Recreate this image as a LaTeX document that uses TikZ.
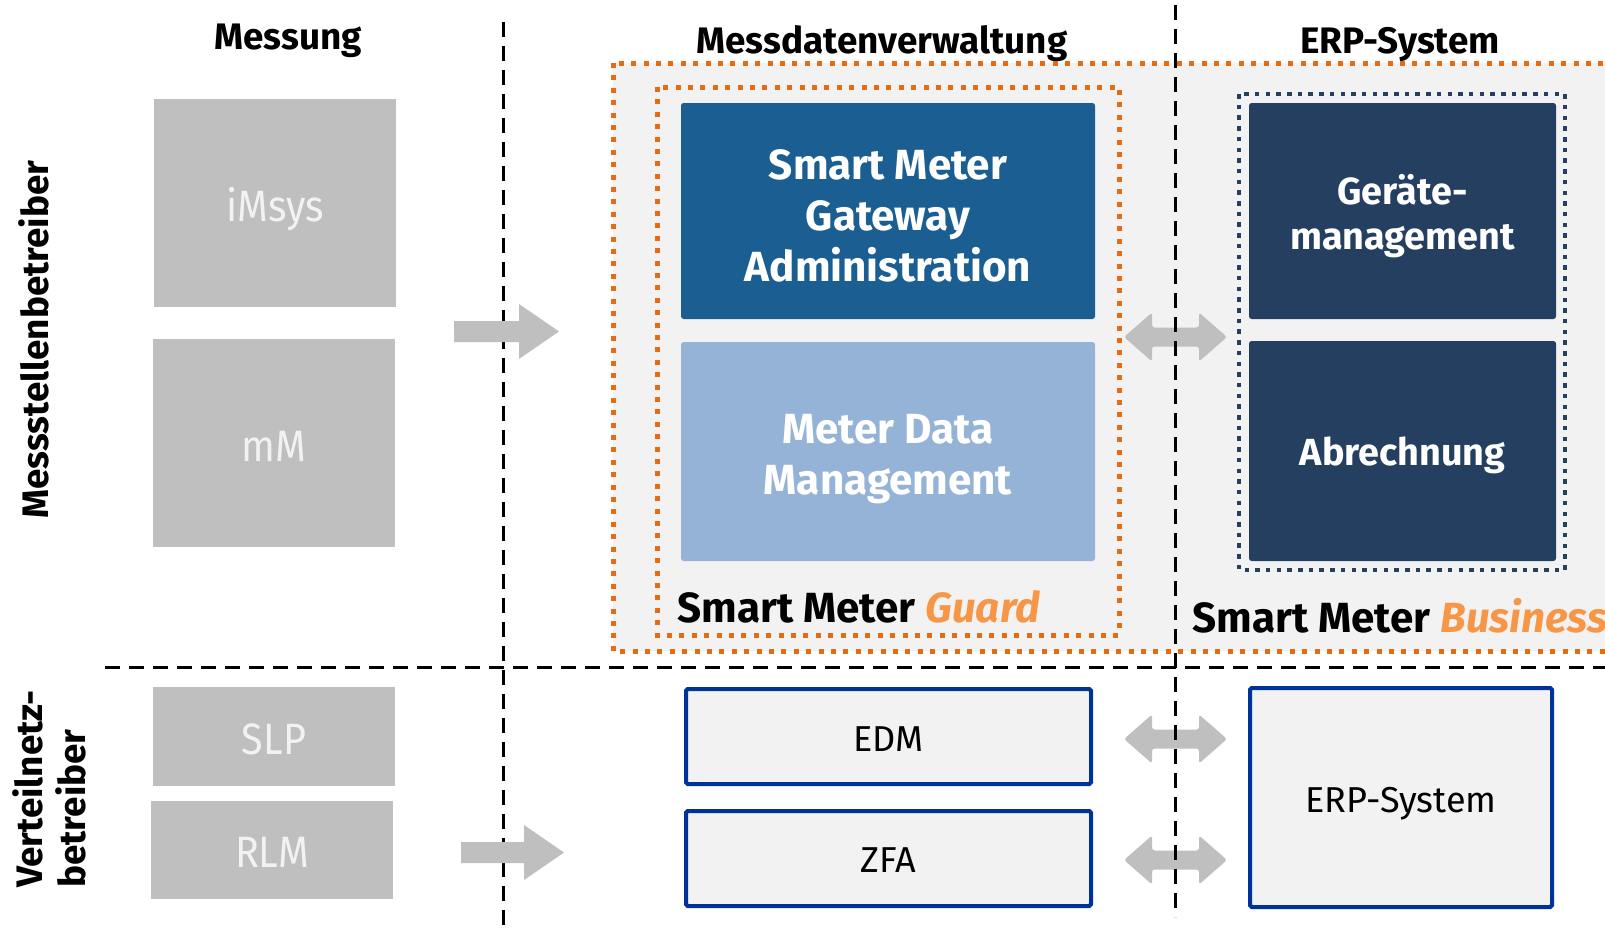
\documentclass[tikz,border=0pt]{standalone}
\usepackage{fontspec}
\setmainfont{Fira Sans}
\newfontfamily\condfont{Fira Sans}[FakeStretch=0.9]
\definecolor{cGray}{HTML}{BFBFBF}
\definecolor{cLight}{HTML}{F2F2F2}
\definecolor{cBlueDark}{HTML}{1B5E92}
\definecolor{cBlueLight}{HTML}{95B3D7}
\definecolor{cNavy}{HTML}{253F60}
\definecolor{cOrangeDot}{HTML}{E56C12}
\definecolor{cOrangeText}{HTML}{F79646}
\definecolor{cBorder}{HTML}{003399}
\newlength\pxl
\setlength\pxl{0.02cm}
\begin{document}
\begin{tikzpicture}[x=0.02cm,y=-0.02cm,
  title/.style={inner sep=0, font=\bfseries\fontsize{21pt}{25pt}\selectfont},
  graybox/.style={fill=cGray, inner sep=0},
  graytext/.style={text=cLight, inner sep=0, font=\condfont\fontsize{25pt}{30pt}\selectfont},
  colbox/.style={rounded corners=1.5pt, inner sep=0},
  boxtext/.style={text=white, inner sep=0, align=center},
  bigtext/.style={font=\bfseries\fontsize{24pt}{29pt}\selectfont},
  midtext/.style={font=\bfseries\fontsize{21.5pt}{25.5pt}\selectfont},
  whitebox/.style={draw=cBorder, line width=4\pxl, fill=cLight, rounded corners=1pt, inner sep=0},
  plaintext/.style={inner sep=0, font=\fontsize{20.5pt}{24pt}\selectfont},
  orangedot/.style={draw=cOrangeDot, line width=5\pxl, dash pattern=on 5\pxl off 7.4\pxl},
  navydot/.style={draw=cNavy, line width=4\pxl, dash pattern=on 4.5\pxl off 6.2\pxl},
  sepline/.style={draw=black, line width=3\pxl, dash pattern=on 15\pxl off 9\pxl},
  blockarrow/.style={fill=cGray},
  sidelabel/.style={inner sep=0, rotate=90, anchor=base west, font=\bfseries\fontsize{21pt}{25pt}\selectfont},
  footlabel/.style={inner sep=0, anchor=base west, font=\bfseries\fontsize{24pt}{28pt}\selectfont}
]
\useasboundingbox (0,0) rectangle (1605,933);
\clip (0,0) rectangle (1605,933);
\fill[white] (0,0) rectangle (1605,933);

% titles
\node[title, anchor=base] (tMess) at (288,50) {Messung};
\node[title, anchor=base] (tMdv) at (882,53) {Messdatenverwaltung};
\node[title, anchor=base] (tErp) at (1400,53) {ERP-System};

% side labels
\node[sidelabel] (lMsb) at (48,519) {Messstellenbetreiber};
\node[sidelabel] (lVnb1) at (42,888) {Verteilnetz-};
\node[sidelabel] (lVnb2) at (85,888) {betreiber};

% containers
\draw[orangedot, fill=cLight] (613,63) rectangle (1630,651);
\draw[orangedot] (657,87) rectangle (1119,635);
\draw[navydot] (1239,94) rectangle (1565,570);

% coloured boxes
\node[colbox, fill=cBlueDark, minimum width=414\pxl, minimum height=216\pxl] (smga) at (888,211) {};
\node[colbox, fill=cBlueLight, minimum width=414\pxl, minimum height=219\pxl] (mdm) at (888,451.5) {};
\node[colbox, fill=cNavy, minimum width=307\pxl, minimum height=216\pxl] (geraete) at (1402.5,211) {};
\node[colbox, fill=cNavy, minimum width=307\pxl, minimum height=220\pxl] (abr) at (1402.5,451) {};
\node[boxtext, bigtext] (smgaT) at ([yshift=-5\pxl]smga.center) {Smart Meter\\Gateway\\Administration};
\node[boxtext, bigtext] (mdmT) at ([yshift=-7.5\pxl]mdm.center) {Meter Data\\Management};
\node[boxtext, midtext] (geraeteT) at ([yshift=-5\pxl]geraete.center) {Geräte-\\management};
\node[boxtext, midtext] (abrT) at ([yshift=-4\pxl]abr.center) {Abrechnung};

\node[footlabel] (guard) at (677,622) {Smart Meter \textcolor{cOrangeText}{\itshape Guard}};
\node[footlabel] (business) at (1192,632) {Smart Meter \textcolor{cOrangeText}{\itshape Business}};

% grey boxes
\node[graybox, minimum width=242\pxl, minimum height=208\pxl] (imsys) at (275,203) {};
\node[graybox, minimum width=242\pxl, minimum height=208\pxl] (mm) at (274,443) {};
\node[graybox, minimum width=242\pxl, minimum height=99\pxl] (slp) at (274,736.5) {};
\node[graybox, minimum width=242\pxl, minimum height=98\pxl] (rlm) at (272,850) {};
\node[graytext] (imsysT) at ([yshift=-6\pxl]imsys.center) {iMsys};
\node[graytext] (mmT) at ([yshift=-3\pxl]mm.center) {mM};
\node[graytext] (slpT) at ([yshift=-3\pxl]slp.center) {SLP};
\node[graytext] (rlmT) at ([yshift=-2\pxl]rlm.center) {RLM};

% lower boxes
\node[whitebox, minimum width=405\pxl, minimum height=95\pxl] (edm) at (888.5,736.5) {};
\node[whitebox, minimum width=405\pxl, minimum height=95\pxl] (zfa) at (888.5,858.5) {};
\node[whitebox, minimum width=302\pxl, minimum height=219\pxl] (erp) at (1401,797.5) {};
\node[plaintext] (edmT) at ([yshift=-3\pxl]edm.center) {EDM};
\node[plaintext] (zfaT) at ([yshift=-2\pxl]zfa.center) {ZFA};
\node[plaintext] (erpT) at ([yshift=-6\pxl]erp.center) {ERP-System};

% first separator
\draw[sepline] (503,22) -- (503,926);

% single block arrows
\coordinate (a1) at (454,331.5);
\coordinate (a2) at (461,852.5);
\fill[blockarrow, shift={(a1)}] (0,-10.5) -- (65,-10.5) -- (65,-27.5) -- (105,0) -- (65,27.5) -- (65,10.5) -- (0,10.5) -- cycle;
\fill[blockarrow, shift={(a2)}] (0,-10.5) -- (63,-10.5) -- (63,-27.5) -- (103,0) -- (63,27.5) -- (63,10.5) -- (0,10.5) -- cycle;

% double block arrows
\foreach \yy/\nm in {337/d1, 739/d2, 860/d3}{
  \coordinate (\nm) at (1124,\yy);
  \fill[blockarrow, rounded corners=1.5pt, shift={(\nm)}] (0,0) -- (28,-24.5) -- (28,-9.5) -- (75,-9.5) -- (75,-24.5) -- (103,0) -- (75,24.5) -- (75,9.5) -- (28,9.5) -- (28,24.5) -- cycle;
}

% other separators
\draw[sepline] (1175,5) -- (1175,917);
\draw[sepline] (105,667) -- (1605,667);
\end{tikzpicture}
\end{document}
